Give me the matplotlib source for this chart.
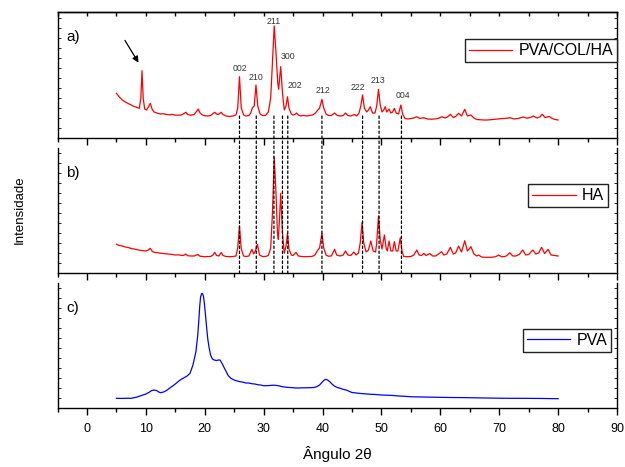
import matplotlib
matplotlib.use("Agg")
import matplotlib.pyplot as plt
from matplotlib.patches import ConnectionPatch
from matplotlib.ticker import MultipleLocator

plt.rcParams['font.family'] = ['Liberation Sans', 'DejaVu Sans']

# (a) PVA/COL/HA
a_x = [5.0, 5.5, 6.0, 6.5, 7.0, 7.5, 8.0, 8.5, 8.9, 9.15, 9.35, 9.55, 9.8, 10.1, 10.45, 10.75,
       11.05, 11.4, 12.0, 12.5, 13.0, 13.5, 14.0, 14.5, 15.0, 15.5, 16.0, 16.5, 16.8, 17.1,
       17.6, 18.2, 18.6, 18.9, 19.2, 19.6, 20.0, 20.5, 21.0, 21.4, 21.7, 22.0, 22.3, 22.8,
       23.1, 23.6, 24.2, 24.8, 25.3, 25.6, 25.9, 26.2, 26.6, 27.0, 27.5, 27.8, 28.1, 28.4,
       28.7, 29.0, 29.4, 29.8, 30.3, 30.8, 31.2, 31.5, 31.8, 32.1, 32.4, 32.55, 32.9, 33.2,
       33.5, 33.8, 34.05, 34.3, 34.7, 35.0, 35.3, 35.6, 35.9, 36.3, 36.8, 37.3, 37.8, 38.3,
       38.8, 39.2, 39.5, 39.9, 40.2, 40.6, 41.0, 41.5, 42.05, 42.5, 43.0, 43.5, 43.9, 44.3,
       44.8, 45.4, 45.8, 46.2, 46.5, 46.8, 47.1, 47.5, 47.8, 48.1, 48.5, 48.9, 49.2, 49.5,
       49.8, 50.1, 50.4, 50.65, 50.9, 51.3, 51.6, 51.9, 52.2, 52.5, 52.9, 53.3, 53.6, 54.0,
       54.5, 55.0, 55.5, 56.0, 56.5, 57.2, 57.8, 58.5, 59.0, 59.6, 60.3, 60.8, 61.2, 61.7,
       62.2, 62.6, 63.1, 63.6, 64.15, 64.6, 65.2, 65.7, 66.2, 66.8, 67.4, 68.0, 68.6, 69.2,
       69.8, 70.4, 71.0, 71.8, 72.5, 73.2, 74.1, 74.7, 75.3, 75.8, 76.4, 76.9, 77.3, 77.8,
       78.5, 79.0, 79.5, 80.0]
a_y = [44.7, 41, 38, 36, 34.5, 33, 31.5, 30.5, 29.7, 40, 67.3, 40, 29, 28, 31, 34.7,
       29, 26, 24.7, 24, 24.3, 23.5, 23.2, 23.6, 22.8, 22.8, 23, 24.5, 25.7, 23.5,
       22.8, 23.5, 26.5, 29, 25, 23, 22.2, 22, 22.5, 24.5, 25.7, 24, 23.5, 25.7,
       23.5, 22, 21.5, 22, 23, 30, 61.3, 30, 23, 22, 22.5, 25, 30.3, 32,
       53, 32, 24, 22.5, 22.5, 26, 40, 75, 112, 85, 55, 48.7, 71.3, 45,
       28, 32, 41.3, 30, 24, 23, 23.5, 25, 23, 22, 22.8, 22, 22.5, 23,
       25, 28, 30, 38.7, 30, 24, 22.5, 22.5, 25, 22.5, 22, 22.5, 25, 22.5,
       22, 23.5, 22, 25, 32, 43, 30, 26, 28, 31.3, 25, 25, 32, 48.7,
       33, 26, 28, 31.3, 26, 29, 25, 26, 29.7, 25, 24, 33, 24, 19.5,
       19, 19.5, 20, 21.3, 19.5, 20.3, 19, 18.8, 19, 19.5, 21.3, 20, 21, 23.7,
       20.5, 21.5, 24.7, 22, 28.7, 22, 23, 20, 18.5, 18.2, 18, 18, 18.3, 18.5,
       19, 19.5, 19.5, 20.3, 19, 19.5, 21, 19.8, 20.5, 22, 20, 21, 23.7, 20.5,
       21.5, 19.5, 18.5, 18]

# (b) HA
b_x = [5.0, 5.5, 6.0, 6.5, 7.0, 7.5, 8.0, 8.5, 9.0, 9.5, 10.0, 10.4, 10.75, 11.1, 11.5, 12.0,
       12.5, 13.0, 13.5, 14.0, 14.5, 15.0, 15.5, 16.0, 16.4, 16.75, 17.1, 17.6, 18.2, 18.8,
       19.2, 19.6, 20.0, 20.5, 21.0, 21.4, 21.7, 22.0, 22.4, 22.8, 23.1, 23.6, 24.2, 24.8,
       25.3, 25.6, 25.9, 26.2, 26.6, 27.0, 27.5, 28.0, 28.3, 28.6, 28.95, 29.3, 29.8, 30.3,
       30.8, 31.2, 31.5, 31.8, 32.1, 32.35, 32.5, 32.7, 32.9, 33.2, 33.5, 33.8, 34.05, 34.3,
       34.7, 35.0, 35.5, 35.9, 36.4, 37.0, 37.6, 38.2, 38.7, 39.2, 39.5, 39.9, 40.2, 40.6,
       41.0, 41.5, 42.05, 42.4, 43.0, 43.5, 43.9, 44.3, 44.8, 45.3, 45.7, 46.1, 46.4, 46.7,
       47.0, 47.4, 47.8, 48.2, 48.6, 49.0, 49.2, 49.5, 49.8, 50.1, 50.5, 50.8, 51.0, 51.3,
       51.6, 51.9, 52.2, 52.5, 52.8, 53.2, 53.5, 53.8, 54.3, 55.0, 55.5, 56.0, 56.4, 56.8,
       57.2, 57.6, 58.2, 58.7, 59.2, 59.7, 60.2, 60.6, 61.1, 61.7, 62.2, 62.6, 63.1, 63.6,
       64.15, 64.6, 65.2, 65.7, 66.2, 66.5, 67.0, 67.6, 68.2, 68.8, 69.4, 69.9, 70.4, 71.0,
       71.4, 71.8, 72.3, 72.8, 73.4, 74.0, 74.5, 75.0, 75.7, 76.2, 76.7, 77.2, 77.7, 78.3,
       78.8, 79.4, 80.0]
b_y = [28.7, 27.5, 27, 26, 25.5, 24.5, 24, 23.3, 22.7, 22.3, 22, 23, 24.7, 21.5, 20.5, 20.3,
       19.8, 19.5, 19.2, 18.8, 18.5, 18, 18.2, 17.7, 17.5, 19, 17.3, 17, 17, 18.5,
       16.8, 16.5, 16.3, 16.5, 16.5, 18, 20.7, 17.5, 17, 20.5, 17.5, 16.5, 16.3, 16.5,
       17, 25, 47, 24, 17, 16.5, 17, 23.7, 19, 22, 28.7, 18, 16.5, 16.5,
       17.5, 25, 60, 115.7, 80, 40, 33.7, 55, 79.7, 40, 19.7, 27, 39.7, 24,
       18, 17.5, 20.7, 17, 16.5, 16.3, 16.5, 16.5, 18, 23, 25, 39.7, 25, 18,
       16.8, 17, 23.7, 18, 17, 18, 22, 18, 17.5, 21, 18, 20, 30, 50.3,
       30, 21, 23, 32, 22, 21, 30, 57, 33, 24, 38, 25, 22, 32,
       22, 22, 31.3, 22, 22, 35.3, 22, 16.5, 16.3, 16.5, 18, 23, 18, 17.5,
       19.7, 17.5, 19.5, 17, 17, 19, 21.3, 18, 19, 25.7, 19, 20, 27, 21,
       32.3, 22, 26.3, 19, 17, 18, 16, 15.7, 15.7, 15.8, 16.3, 18, 16.2, 16.5,
       18, 20.3, 17, 17, 18.5, 23, 18, 18.5, 23, 19, 20, 25.7, 19.5, 23.7,
       18, 17.5, 17]

# (c) PVA
c_x = [5.0, 6.0, 7.0, 7.5, 8.0, 8.5, 9.0, 9.5, 10.0, 10.5, 11.0, 11.4, 11.8, 12.2, 12.5, 13.0,
       13.5, 14.0, 14.5, 15.0, 15.5, 16.0, 16.5, 17.0, 17.5, 18.0, 18.5, 18.8, 19.0, 19.15,
       19.3, 19.5, 19.65, 19.8, 19.95, 20.1, 20.3, 20.5, 20.75, 21.0, 21.3, 21.6, 22.0, 22.3,
       22.6, 22.9, 23.2, 23.5, 24.0, 24.5, 25.0, 25.5, 26.0, 26.5, 27.0, 27.5, 28.0, 28.5,
       29.0, 29.5, 30.0, 30.5, 31.0, 31.5, 32.0, 32.5, 33.0, 33.5, 34.0, 34.5, 35.0, 35.5,
       36.0, 36.5, 37.0, 37.5, 38.0, 38.5, 39.0, 39.5, 40.0, 40.3, 40.6, 40.9, 41.2, 41.6,
       42.0, 42.5, 43.0, 43.5, 44.0, 44.5, 45.0, 45.5, 46.0, 47.0, 48.0, 49.0, 50.0, 51.0,
       52.0, 53.0, 54.0, 55.0, 56.0, 57.0, 58.0, 59.0, 60.0, 62.0, 64.0, 66.0, 68.0, 70.0,
       72.0, 74.0, 76.0, 78.0, 80.0]
c_y = [9.7, 9.6, 9.8, 9.7, 10.3, 11, 12, 13, 14, 15.5, 17.5, 18, 17.5, 16, 15.3, 16,
       17.5, 19.7, 21.8, 24, 26.5, 28.7, 30.3, 32, 34.7, 43, 56.3, 72, 88, 102,
       111.3, 114.7, 114, 111.3, 104, 94.7, 82, 69.7, 60, 53, 49, 48, 47.5, 48,
       48, 45, 41.5, 38, 32.3, 29.5, 28, 27, 26.3, 25.8, 25, 25, 24.3, 24,
       23.3, 23, 22.3, 22.3, 22.5, 22.8, 22.7, 22.3, 21.5, 21, 20.7, 20.5, 20.3, 20,
       20, 20.2, 20.2, 20.3, 20.3, 20.5, 21.3, 23, 26.3, 28, 28.7, 27.8, 26.5, 24,
       22, 20.5, 19.7, 18.7, 18, 16.8, 15.5, 15.2, 14.8, 14.3, 13.8, 13.5, 13, 12.8,
       12.5, 12, 11.7, 11.3, 11.1, 11, 10.9, 10.8, 10.7, 10.5, 10.4, 10.2, 10, 9.8,
       9.7, 9.7, 9.6, 9.5, 9.3]

# reflexoes da HA
peak_labels = ['002', '210', '211', '300', '202', '212', '222', '213', '004']
peak_lines = [25.9, 28.75, 31.75, 33.2, 34.1, 39.9, 46.8, 49.6, 53.4]
label_x = [25.9, 28.7, 31.7, 34.1, 35.3, 40.0, 46.0, 49.35, 53.6]
label_y = [69.7, 60.7, 116.7, 82, 52, 47, 50.7, 57.3, 42]

fig = plt.figure(figsize=(6.25, 4.67), dpi=100)
left, width = 0.092, 0.8952
ax_a = fig.add_axes([left, 0.7045, width, 0.2698])
ax_b = fig.add_axes([left, 0.4154, width, 0.2677])
ax_c = fig.add_axes([left, 0.1263, width, 0.2677])

ax_a.plot(a_x, a_y, color='#ff0000', lw=0.9, label='PVA/COL/HA')
ax_b.plot(b_x, b_y, color='#ff0000', lw=0.9, label='HA')
ax_c.plot(c_x, c_y, color='#0000ff', lw=0.9, label='PVA')

for ax, top, lab in [(ax_a, 126, 'a)'), (ax_b, 125, 'b)'), (ax_c, 125, 'c)')]:
    ax.set_xlim(-5, 90)
    ax.set_ylim(0, top)
    ax.xaxis.set_major_locator(MultipleLocator(10))
    ax.xaxis.set_minor_locator(MultipleLocator(5))
    ax.yaxis.set_major_locator(MultipleLocator(10))
    ax.tick_params(axis='x', which='major', direction='out', length=5, width=1)
    ax.tick_params(axis='x', which='minor', direction='out', length=3, width=1)
    ax.tick_params(axis='y', which='major', direction='in', length=2, width=0.6,
                   left=True, right=True, labelleft=False)
    ax.spines['top'].set_visible(False)
    ax.text(0.015, 0.8, lab, transform=ax.transAxes, fontsize=11, va='center', ha='left')
    for s in ax.spines.values():
        s.set_linewidth(1)

# only panel a has a top frame line, ticks pointing inward
ax_a.spines['top'].set_visible(True)
sec = ax_a.secondary_xaxis('top')
sec.xaxis.set_major_locator(MultipleLocator(10))
sec.xaxis.set_minor_locator(MultipleLocator(5))
sec.tick_params(axis='x', which='both', direction='in', length=3, width=1, labeltop=False)
sec.spines['top'].set_linewidth(1)

for ax in (ax_a, ax_b):
    ax.tick_params(axis='x', labelbottom=False)

ax_c.tick_params(axis='x', labelsize=9, pad=6)
ax_c.set_xlabel('Ângulo 2θ', fontsize=11, labelpad=8)

fig.text(0.032, 1 - 210 / 467, 'Intensidade', rotation=90, fontsize=9.5, va='center', ha='center')

for lx, ly, t in zip(label_x, label_y, peak_labels):
    ax_a.text(lx, ly, t, fontsize=6.3, ha='center', va='center', color='#333333')

ax_a.annotate('', xy=(9.0, 73), xytext=(6.2, 100),
              arrowprops=dict(arrowstyle='-|>', color='black', lw=0.9, mutation_scale=9))

for px in peak_lines:
    con = ConnectionPatch(xyA=(px, 22), coordsA='data', axesA=ax_a,
                          xyB=(px, 0), coordsB='data', axesB=ax_b,
                          color='black', lw=0.9, linestyle=(0, (2, 2)))
    fig.add_artist(con)

leg_kw = dict(fontsize=11.5, handlelength=2.7, handletextpad=0.4, borderpad=0.25,
              borderaxespad=0, fancybox=False, framealpha=1, edgecolor='#222222', loc='center right')
ax_a.legend(bbox_to_anchor=(1.0, 0.693), **leg_kw)
ax_b.legend(bbox_to_anchor=(0.984, 0.618), **leg_kw)
ax_c.legend(bbox_to_anchor=(0.990, 0.54), **leg_kw)

fig.savefig('out.png', dpi=100)
